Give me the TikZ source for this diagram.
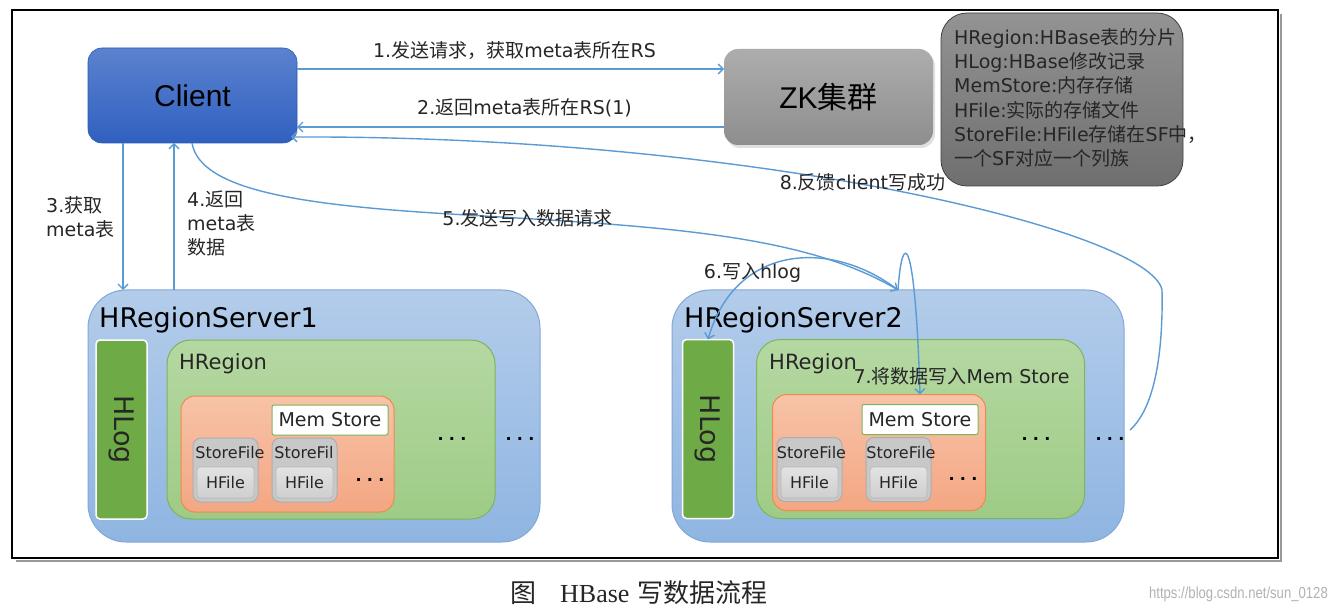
\documentclass[tikz,border=0pt]{standalone}
\usepackage{fontspec}
\setmainfont{DejaVu Sans}
\newfontfamily\cjk{Noto Sans CJK SC}
\newfontfamily\arialf{Liberation Sans}
\newfontfamily\seriff{Liberation Serif}
\newcommand\C[1]{{\cjk #1}}
\usetikzlibrary{arrows.meta,calc,shadows}
\definecolor{arrowblue}{HTML}{5B9BD5}
\definecolor{clientTop}{HTML}{5B82CE}
\definecolor{clientBot}{HTML}{3060C0}
\definecolor{zkTop}{HTML}{ADADAD}
\definecolor{zkBot}{HTML}{8E8E8E}
\definecolor{noteTop}{HTML}{939393}
\definecolor{noteBot}{HTML}{6F6F6F}
\definecolor{hrsTop}{HTML}{B3CCEA}
\definecolor{hrsBot}{HTML}{8FB5E2}
\definecolor{hrsBorder}{HTML}{82A8D8}
\definecolor{hlogGreen}{HTML}{6EAB46}
\definecolor{hrTop}{HTML}{B5D8A2}
\definecolor{hrBot}{HTML}{9ECB86}
\definecolor{hrBorder}{HTML}{7DB55A}
\definecolor{orTop}{HTML}{F7C3A8}
\definecolor{orBot}{HTML}{F4A682}
\definecolor{orBorder}{HTML}{EE8A4E}
\definecolor{sfFill}{HTML}{C8C8C8}
\definecolor{sfBorder}{HTML}{ADADAD}
\definecolor{txt}{HTML}{262626}
\begin{document}
\begin{tikzpicture}[x=1pt,y=-1pt,
  arr/.style={draw=arrowblue, line width=1.4pt, -{Straight Barb[length=5pt,width=10pt]}},
  lbl/.style={text=txt, font=\fontsize{19}{24}\selectfont, inner sep=0pt},
  rbox/.style={inner sep=0pt, outer sep=0pt},
  hrsbox/.style={rbox, minimum width=452pt, minimum height=252pt, rounded corners=38pt, top color=hrsTop, bottom color=hrsBot, draw=hrsBorder, line width=1pt},
  hlogbox/.style={rbox, minimum width=51pt, minimum height=179pt, rounded corners=4pt, fill=hlogGreen, draw=white, line width=1.5pt},
  hlogtxt/.style={rotate=-90, inner sep=0pt, font=\fontsize{27}{27}\selectfont, text=txt},
  hrbox/.style={rbox, minimum width=328pt, minimum height=179pt, rounded corners=24pt, top color=hrTop, bottom color=hrBot, draw=hrBorder, line width=1pt},
  titletxt/.style={anchor=base west, inner sep=0pt, font=\fontsize{27}{27}\selectfont, text=black},
  hrtxt/.style={anchor=base west, inner sep=0pt, font=\fontsize{21}{21}\selectfont, text=txt},
  orbox/.style={rbox, minimum width=213pt, minimum height=116pt, rounded corners=14pt, top color=orTop, bottom color=orBot, draw=orBorder, line width=1pt},
  membox/.style={rbox, minimum width=116pt, minimum height=30pt, rounded corners=2pt, fill=white, draw=hrBorder, line width=1pt, font=\fontsize{19}{19}\selectfont, text=txt},
  sfbox/.style={rbox, minimum width=65pt, minimum height=64pt, rounded corners=8pt, fill=sfFill, draw=sfBorder, line width=1pt},
  sflbl/.style={inner sep=0pt, font=\fontsize{16}{16}\selectfont, text=txt},
  hfbox/.style={rbox, minimum width=57pt, minimum height=31pt, rounded corners=3pt, top color=gray!22, bottom color=gray!38, draw=gray!55, line width=0.8pt, font=\fontsize{16}{16}\selectfont, text=txt},
  dots/.style={inner sep=0pt, font=\bfseries\fontsize{16}{16}\selectfont, text=black},
]
\useasboundingbox (0,0) rectangle (1336,612);
\fill[white] (0,0) rectangle (1336,612);
% frame
\draw[black!40, line width=2pt] (1280.5,14) -- (1280.5,560.5) -- (16,560.5);
\draw[line width=1.6pt] (12,10) rectangle (1278,558);

% Client, ZK, note
\node[rbox, minimum width=209pt, minimum height=95pt, rounded corners=14pt, top color=clientTop, bottom color=clientBot, draw=clientBot!92!black, line width=0.6pt, font=\arialf\fontsize{30}{30}\selectfont, text=black] (client) at (192.5,95.5) {Client};
\node[rbox, minimum width=209pt, minimum height=96pt, rounded corners=14pt, top color=zkTop, bottom color=zkBot, drop shadow={opacity=0.25,shadow xshift=2pt,shadow yshift=-3pt}, font=\arialf\fontsize{30}{30}\selectfont, text=black] (zk) at (828.5,97) {ZK\C{集群}};
\node[rbox, minimum width=242pt, minimum height=173pt, rounded corners=26pt, top color=noteTop, bottom color=noteBot, draw=black!75, line width=0.8pt] (note) at (1062,99.5) {};
\node[anchor=north west, align=left, inner sep=0pt, font=\fontsize{19}{24.3}\selectfont, text=txt] (notetext) at (954,28) {HRegion:HBase\C{表的分片}\\HLog:HBase\C{修改记录}\\MemStore:\C{内存存储}\\HFile:\C{实际的存储文件}\\StoreFile:HFile\C{存储在}SF\C{中，}\\\C{一个}SF\C{对应一个列族}};

% HRegionServer1
\node[hrsbox] (hrs1) at (314,416) {};
\node[titletxt] (hrs1t) at (99,327) {HRegionServer1};
\node[hlogbox] (hlog1) at (121.5,429.5) {};
\node[hlogtxt] (hlog1t) at (hlog1) {HLog};
\node[hrbox] (hr1) at (331,429.5) {};
\node[hrtxt] (hr1t) at (179,369) {HRegion};
\node[orbox] (st1) at (287.5,454) {};
\node[membox] (mem1) at (330,420) {Mem Store};
\node[sfbox] (sf1a) at (225.5,470) {};
\node[sfbox] (sf1b) at (304.5,470) {};
\node[sflbl] (sf1at) at (230,453) {StoreFile};
\node[sflbl] (sf1bt) at (304,453) {StoreFil};
\node[hfbox] (hf1a) at (225.5,482.5) {HFile};
\node[hfbox] (hf1b) at (304.5,482.5) {HFile};
\node[dots] (d1a) at (370,480) {.\,\,.\,\,.};
\node[dots] (d1b) at (452,439) {.\,\,.\,\,.};
\node[dots] (d1c) at (520,439) {.\,\,.\,\,.};

% HRegionServer2
\node[hrsbox] (hrs2) at (898,416) {};
\node[titletxt] (hrs2t) at (684,327) {HRegionServer2};
\node[hlogbox] (hlog2) at (708,429) {};
\node[hlogtxt] (hlog2t) at (hlog2) {HLog};
\node[hrbox] (hr2) at (920.5,429) {};
\node[hrtxt] (hr2t) at (769,369) {HRegion};
\node[orbox] (st2) at (879,452.5) {};
\node[membox] (mem2) at (920,419.5) {Mem Store};
\node[sfbox] (sf2a) at (809.5,469.5) {};
\node[sfbox] (sf2b) at (898.5,469.5) {};
\node[sflbl] (sf2at) at (811.5,453) {StoreFile};
\node[sflbl] (sf2bt) at (901,453) {StoreFile};
\node[hfbox] (hf2a) at (809.5,482.5) {HFile};
\node[hfbox] (hf2b) at (898.5,482.5) {HFile};
\node[dots] (d2a) at (963,479) {.\,\,.\,\,.};
\node[dots] (d2b) at (1036,439) {.\,\,.\,\,.};
\node[dots] (d2c) at (1110,439) {.\,\,.\,\,.};

% connectors
\draw[arr] (client.east |- 0,69) -- (zk.west |- 0,69);
\draw[arr] (zk.west |- 0,127) -- (client.east |- 0,127);
\draw[arr] (client.south -| 123,0) -- (hrs1.north -| 123,0);
\draw[arr] (hrs1.north -| 174,0) -- (client.south -| 174,0);
\draw[arr] (client.south -| 192,0) .. controls (200,190) and (300,205) .. (450,214) .. controls (650,226) and (800,232) .. (hrs2.north);
\draw[arr] (hrs2.north) .. controls (830,238) and (735,245) .. (hlog2.north);
\draw[arr] (hrs2.north) .. controls (902,230) and (915,230) .. (mem2.north |- st2.north);
\draw[arr] ($(hrs2.east)+(6,14)$) .. controls (1158,405) and (1163,340) .. (1162,290) .. controls (1150,230) and (750,135) .. ($(client.south east)+(-6,-6)$);

% labels
\node[lbl] (l1) at (514.5,51) {1.\C{发送请求，获取}meta\C{表所在}RS};
\node[lbl] (l2) at (524.5,108) {2.\C{返回}meta\C{表所在}RS(1)};
\node[lbl, align=left, anchor=west] (l3) at (46,217) {3.\C{获取}\\meta\C{表}};
\node[lbl, align=left, anchor=west] (l4) at (187,223) {4.\C{返回}\\meta\C{表}\\\C{数据}};
\node[lbl] (l5) at (527.5,218) {5.\C{发送写入数据请求}};
\node[lbl] (l6) at (752.5,273) {6.\C{写入}hlog};
\node[lbl] (l7) at (961.5,376) {7.\C{将数据写入}Mem Store};
\node[lbl] (l8) at (862.5,182) {8.\C{反馈}client\C{写成功}};

% caption and watermark
\node[anchor=west, inner sep=0pt, text=txt, font=\fontsize{26}{26}\selectfont] (cap) at (510,593) {\C{图}\hspace{24pt}{\seriff HBase}\hspace{8pt}\C{写数据流程}};
\node[anchor=east, inner sep=0pt, text=black!30, font=\arialf\fontsize{16}{16}\selectfont] (wm) at (1328,594) {\scalebox{0.82}[1]{https://blog.csdn.net/sun\_0128}};
\end{tikzpicture}
\end{document}
